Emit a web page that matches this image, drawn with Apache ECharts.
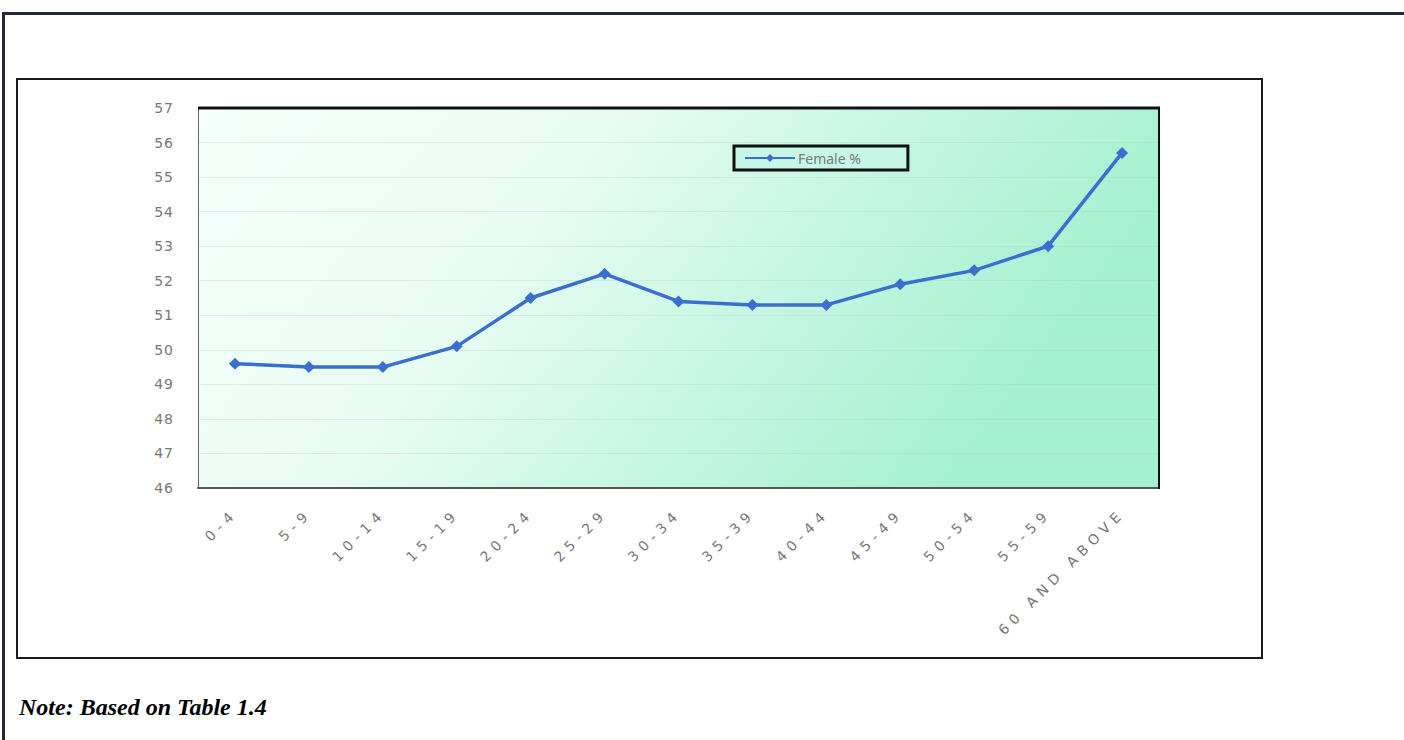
<!DOCTYPE html>
<html>
<head>
<meta charset="utf-8">
<script src="https://cdn.jsdelivr.net/npm/echarts@6/dist/echarts.min.js"></script>
<style>
html,body{margin:0;padding:0;background:#fff;}
#chart{width:1404px;height:740px;}
</style>
</head>
<body>
<div id="chart"></div>
<script>
const categories = ['0-4','5-9','10-14','15-19','20-24','25-29','30-34','35-39','40-44','45-49','50-54','55-59','60 AND ABOVE'];
const femaleValues = [49.6, 49.5, 49.5, 50.1, 51.5, 52.2, 51.4, 51.3, 51.3, 51.9, 52.3, 53.0, 55.7];
const yTicks = ['46','47','48','49','50','51','52','53','54','55','56','57'];
const seriesName = 'Female %';
const noteText = 'Note: Based on Table 1.4';

const chart = echarts.init(document.getElementById('chart'), null, { renderer: 'svg' });
chart.setOption({
  animation: false,
  backgroundColor: '#ffffff',
  graphic: [
    { type: 'rect', z: -10, shape: { x: 3.5, y: 13.5, width: 1460, height: 800 },
      style: { fill: '#ffffff', stroke: '#232a33', lineWidth: 3 } },
    { type: 'rect', z: -9, shape: { x: 17, y: 79, width: 1245, height: 579 },
      style: { fill: '#ffffff', stroke: '#1a1a1a', lineWidth: 2 } },
    { type: 'line', z: 10, shape: { x1: 198, y1: 108, x2: 1160, y2: 108 },
      style: { stroke: '#111', lineWidth: 3 } },
    { type: 'line', z: 10, shape: { x1: 1159, y1: 107, x2: 1159, y2: 489 },
      style: { stroke: '#111', lineWidth: 2 } }
  ],
  title: {
    text: noteText,
    left: 14, top: 690,
    textStyle: { fontFamily: 'Liberation Serif', fontStyle: 'italic', fontWeight: 'bold', fontSize: 24, color: '#000' }
  },
  legend: {
    data: [seriesName],
    left: 734, top: 146,
    padding: [5, 47, 5, 10],
    borderColor: '#111', borderWidth: 3,
    backgroundColor: '#c6f6e6',
    itemWidth: 50, itemHeight: 10,
    itemGap: 4,
    textStyle: { color: '#7a7a7a', fontSize: 14, fontFamily: 'Noto Sans', padding: [0, 0, 0, -2] }
  },
  grid: {
    left: 198, top: 108, right: 245, bottom: 252,
    show: true, borderWidth: 0,
    backgroundColor: {
      type: 'linear', x: 0, y: 0, x2: 1, y2: 0.3,
      colorStops: [
        { offset: 0, color: '#f6fffb' },
        { offset: 0.4, color: '#e8fcf3' },
        { offset: 0.7, color: '#c4f6e1' },
        { offset: 1, color: '#a4f0d0' }
      ]
    }
  },
  xAxis: {
    type: 'category',
    data: categories,
    boundaryGap: true,
    axisLine: { show: true, lineStyle: { color: '#555', width: 2 } },
    axisTick: { show: false },
    axisLabel: { rotate: 45, color: '#777', fontSize: 14, fontFamily: 'DejaVu Sans', margin: 23, interval: 0 },
    splitLine: { show: false }
  },
  yAxis: {
    type: 'value',
    min: 46, max: 57, interval: 1,
    axisLine: { show: true, lineStyle: { color: '#666', width: 1 } },
    axisTick: { show: false },
    axisLabel: { color: '#777', fontSize: 14, fontFamily: 'DejaVu Sans', margin: 24 },
    splitLine: { show: true, lineStyle: { color: 'rgba(180,190,185,0.25)', width: 1 } }
  },
  series: [{
    name: seriesName,
    type: 'line',
    data: femaleValues,
    symbol: 'diamond',
    symbolSize: 12,
    lineStyle: { color: '#3b6fcf', width: 3.5 },
    itemStyle: { color: '#3b6fcf' }
  }]
});

// widen letter spacing of the axis labels, as in the reference
document.querySelectorAll('#chart svg text').forEach(function (t) {
  if (categories.indexOf(t.textContent) !== -1) {
    t.style.letterSpacing = '5.5px';
  } else if (yTicks.indexOf(t.textContent) !== -1) {
    t.style.letterSpacing = '1px';
  }
});
</script>
</body>
</html>
